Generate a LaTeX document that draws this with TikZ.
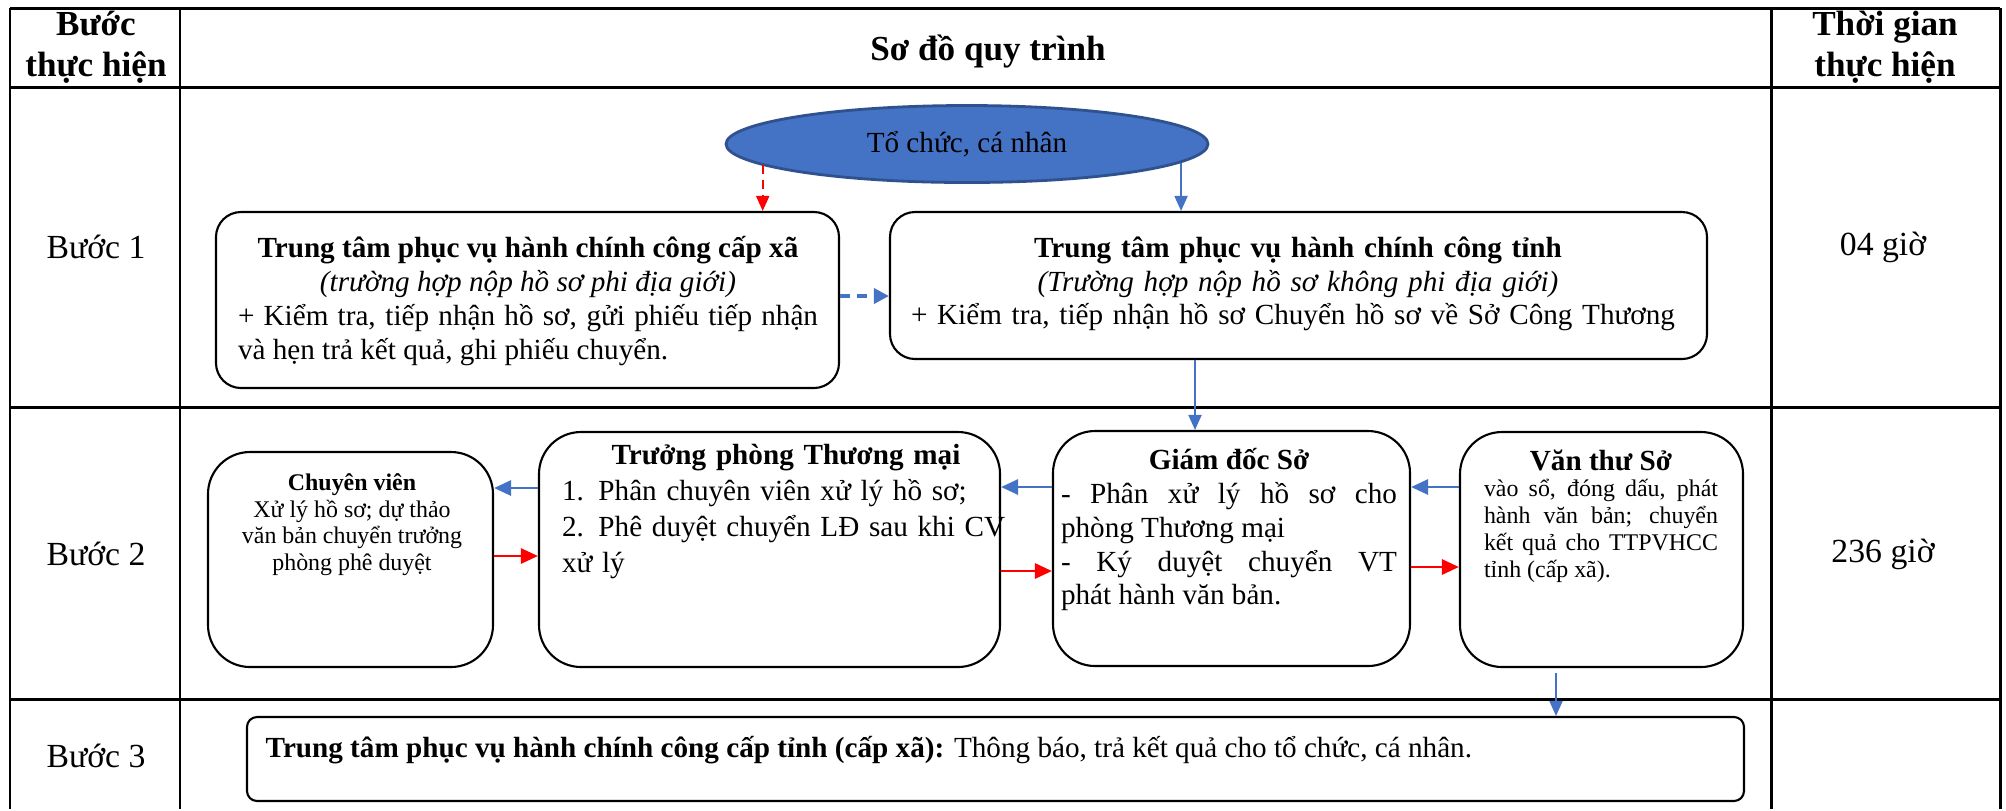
\documentclass[tikz,border=0pt]{standalone}
\usepackage{fontspec}
\setmainfont{Liberation Serif}
\usetikzlibrary{shapes.geometric,arrows.meta}
\definecolor{orgblue}{RGB}{68,114,196}
\definecolor{orgedge}{RGB}{47,82,143}
\definecolor{flowred}{RGB}{255,0,0}

\tikzset{
  tableline/.style={line width=0.85pt},
  flowbox/.style={draw, line width=0.6pt, rounded corners=0.25cm, inner sep=0pt},
  tallbox/.style={flowbox, rounded corners=0.42cm},
  txt/.style={inner sep=0pt, font=\fontsize{8.3pt}{9.6pt}\selectfont},
  smalltxt/.style={inner sep=0pt, font=\fontsize{6.8pt}{7.6pt}\selectfont},
  steptxt/.style={inner sep=0pt, font=\fontsize{9.6pt}{11pt}\selectfont},
  headtxt/.style={inner sep=0pt, align=center, font=\fontsize{10pt}{11.7pt}\selectfont\bfseries},
  bluearrow/.style={draw=orgblue, line width=0.55pt, -{Triangle[length=0.15cm, width=0.13cm]}},
  bluethick/.style={draw=orgblue, line width=0.8pt, -{Triangle[length=0.17cm, width=0.15cm]}},
  redthick/.style={draw=flowred, line width=0.8pt, -{Triangle[length=0.17cm, width=0.15cm]}},
  reddash/.style={draw=flowred, line width=0.55pt, dash pattern=on 0.09cm off 0.06cm, -{Triangle[length=0.15cm, width=0.13cm]}},
  bluedash/.style={draw=orgblue, line width=1pt, dash pattern=on 0.1cm off 0.07cm, -{Triangle[length=0.15cm, width=0.15cm]}}
}

\begin{document}
\begin{tikzpicture}
\fill [white] (0, 0) rectangle (20.06, -8.09);

\draw [tableline] (0.10, -0.08) -- (20.00, -0.08);
\draw [tableline] (0.10, -0.87) -- (20.00, -0.87);
\draw [tableline] (0.10, -4.07) -- (20.00, -4.07);
\draw [tableline] (0.10, -6.99) -- (20.00, -6.99);
\draw [tableline] (0.10, -0.08) -- (0.10, -8.09);
\draw [tableline] (1.80, -0.08) -- (1.80, -8.09);
\draw [tableline] (17.71, -0.08) -- (17.71, -8.09);
\draw [tableline] (20.00, -0.08) -- (20.00, -8.09);

\node (stepHead) at (0.96, -0.47) [headtxt] {Bước\\thực hiện};
\node (flowHead) at (9.88, -0.51) [headtxt] {Sơ đồ quy trình};
\node (timeHead) at (18.85, -0.47) [headtxt] {Thời gian\\thực hiện};

\node (step1) at (0.96, -2.47) [steptxt] {Bước 1};
\node (step2) at (0.96, -5.54) [steptxt] {Bước 2};
\node (step3) at (0.96, -7.56) [steptxt] {Bước 3};
\node (time1) at (18.83, -2.47) [steptxt] {04 giờ};
\node (time2) at (18.83, -5.54) [steptxt] {236 giờ};

\node (tochuc) at (9.67, -1.44) [ellipse, draw=orgedge, fill=orgblue, line width=0.8pt, minimum width=4.82cm, minimum height=0.77cm, txt] {Tổ chức, cá nhân};

\node (xaBox) at (5.275, -3.00) [flowbox, minimum width=6.23cm, minimum height=1.76cm] {};
\node (xaTxt) at (5.28, -3.01) [txt, text width=5.8cm, align=justify] {{\centering\textbf{Trung tâm phục vụ hành chính công cấp xã}\\\textit{(trường hợp nộp hồ sơ phi địa giới)}\par}+ Kiểm tra, tiếp nhận hồ sơ, gửi phiếu tiếp nhận\linebreak và hẹn trả kết quả, ghi phiếu chuyển.};
\node (tinhBox) at (12.985, -2.855) [flowbox, minimum width=8.17cm, minimum height=1.47cm] {};
\node (tinhTxt) at (12.98, -2.84) [txt, text width=7.74cm] {{\centering\textbf{Trung tâm phục vụ hành chính công tỉnh}\\\textit{(Trường hợp nộp hồ sơ không phi địa giới)}\par}\raggedright + Kiểm tra, tiếp nhận hồ sơ Chuyển hồ sơ về Sở Công Thương};

\node (cvBox) at (3.505, -5.595) [tallbox, minimum width=2.85cm, minimum height=2.15cm] {};
\node (cvTxt) at (3.52, -4.73) [smalltxt, anchor=north, align=center] {\textbf{Chuyên viên}\\Xử lý hồ sơ; dự thảo\\văn bản chuyển trưởng\\phòng phê duyệt};
\node (tpBox) at (7.695, -5.495) [tallbox, minimum width=4.61cm, minimum height=2.35cm] {};
\node (tpTxt) at (7.86, -4.44) [txt, anchor=north, text width=4.48cm, font=\fontsize{8.3pt}{10.2pt}\selectfont] {{\centering\textbf{Trưởng phòng Thương mại}\par}\raggedright 1. Phân chuyên viên xử lý hồ sơ;\\2. Phê duyệt chuyển LĐ sau khi CV\\xử lý};
\node (gdBox) at (12.315, -5.485) [tallbox, minimum width=3.57cm, minimum height=2.35cm] {};
\node (gdTxt) at (12.29, -4.48) [txt, anchor=north, text width=3.36cm, align=justify] {{\centering\textbf{Giám đốc Sở}\par}- Phân xử lý hồ sơ cho\linebreak phòng Thương mại\par - Ký duyệt chuyển VT\linebreak phát hành văn bản.};
\node (vtBox) at (16.015, -5.495) [tallbox, minimum width=2.83cm, minimum height=2.35cm] {};
\node (vtTxt) at (16.01, -4.49) [smalltxt, anchor=north, text width=2.34cm, align=justify] {{\centering\fontsize{8.3pt}{9.6pt}\selectfont\bfseries Văn thư Sở\par}vào sổ, đóng dấu, phát\linebreak hành văn bản; chuyển\linebreak kết quả cho TTPVHCC\linebreak tỉnh (cấp xã).};

\node (kqBox) at (9.955, -7.59) [flowbox, rounded corners=0.1cm, minimum width=14.97cm, minimum height=0.84cm] {};
\node (kqTxt) at (2.65, -7.50) [txt, anchor=west] {\textbf{Trung tâm phục vụ hành chính công cấp tỉnh (cấp xã):} Thông báo, trả kết quả cho tổ chức, cá nhân.};

\draw [reddash] (tochuc.186) -- (tochuc.186 |- xaBox.north);
\draw [bluearrow] (tochuc.355) -- (tochuc.355 |- tinhBox.north);
\draw [bluedash] ([yshift=0.04cm]xaBox.east) -- ([yshift=0.04cm]xaBox.east -| tinhBox.west);
\draw [bluearrow] ([xshift=-1.035cm]tinhBox.south) -- ([xshift=-1.035cm]tinhBox.south |- gdBox.north);

\draw [bluethick] ([yshift=0.615cm]tpBox.west) -- ([yshift=0.615cm]tpBox.west -| cvBox.east);
\draw [redthick] ([yshift=0.035cm]cvBox.east) -- ([yshift=0.035cm]cvBox.east -| tpBox.west);
\draw [bluethick] ([yshift=0.615cm]gdBox.west) -- ([yshift=0.615cm]gdBox.west -| tpBox.east);
\draw [redthick] ([yshift=-0.215cm]tpBox.east) -- ([yshift=-0.215cm]tpBox.east -| gdBox.west);
\draw [bluethick] ([yshift=0.625cm]vtBox.west) -- ([yshift=0.625cm]vtBox.west -| gdBox.east);
\draw [redthick] ([yshift=-0.185cm]gdBox.east) -- ([yshift=-0.185cm]gdBox.east -| vtBox.west);
\draw [bluearrow, shorten <=0.05cm] ([xshift=-0.455cm]vtBox.south) -- ([xshift=-0.455cm]vtBox.south |- kqBox.north);
\end{tikzpicture}
\end{document}
